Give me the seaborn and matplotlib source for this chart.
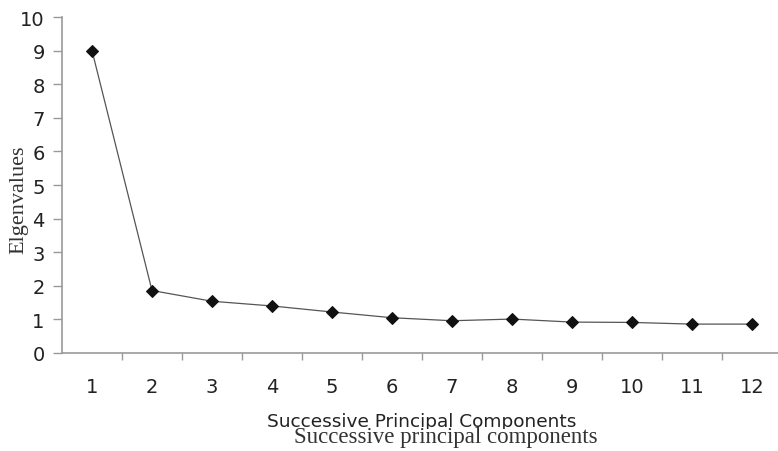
import matplotlib
matplotlib.use("Agg")
import matplotlib.pyplot as plt
from matplotlib.ticker import FixedLocator
from matplotlib.patches import Rectangle
import seaborn as sns
import pandas as pd

components = list(range(1, 13))
eigenvalues = [9.0, 1.86, 1.54, 1.40, 1.22, 1.05, 0.96, 1.01, 0.92, 0.91, 0.86, 0.86]
y_ticks = list(range(0, 11))

sns.set_theme(style="white")
plt.rcParams['font.family'] = ['DejaVu Sans']

df = pd.DataFrame({"component": components, "eigenvalue": eigenvalues})

fig = plt.figure(figsize=(7.78, 4.52), dpi=100)
W, H = 778, 452
ax = fig.add_axes([62 / W, 1 - 354 / H, (W - 62) / W, (354 - 18) / H])

sns.lineplot(data=df, x="component", y="eigenvalue", ax=ax, color="#555555",
             linewidth=0.9, marker="D", markersize=6, markerfacecolor="#111111",
             markeredgecolor="#111111")

ax.set_xlim(0.5, 0.5 + (W - 62) / 60)
ax.set_ylim(0, 10)
ax.set_yticks(y_ticks)
ax.set_xticks(components)
ax.xaxis.set_minor_locator(FixedLocator([c + 0.5 for c in components]))
ax.tick_params(axis="x", which="major", length=0, pad=17, labelsize=14, labelcolor="#222222")
ax.tick_params(axis="x", which="minor", length=5, width=1, color="#999999", direction="out", bottom=True)
ax.tick_params(axis="y", which="major", length=6.5, width=1, color="#999999", direction="out",
               left=True, pad=6, labelsize=14, labelcolor="#222222")
for s in ["top", "right"]:
    ax.spines[s].set_visible(False)
for s in ["left", "bottom"]:
    ax.spines[s].set_color("#999999")
    ax.spines[s].set_linewidth(1.2)
ax.set_xlabel("")
ax.set_ylabel("Elgenvalues", fontsize=16, family=["Liberation Serif"], color="#333333")
ax.yaxis.set_label_coords(-34 / (W - 62), (354 - 200) / (354 - 18))

fig.text(422 / W, 1 - 427 / H, "Successive Principal Components", ha="center", va="baseline",
         fontsize=13.3, color="#222222", zorder=1)
fig.patches.append(Rectangle((250 / W, 0), 360 / W, (H - 430) / H, transform=fig.transFigure,
                             facecolor="white", edgecolor="none", zorder=2))
fig.text(446 / W, 1 - 443 / H, "Successive principal components", ha="center", va="baseline",
         fontsize=16.5, family=["Liberation Serif"], color="#333333", zorder=3)

fig.savefig("out.png", dpi=100)
